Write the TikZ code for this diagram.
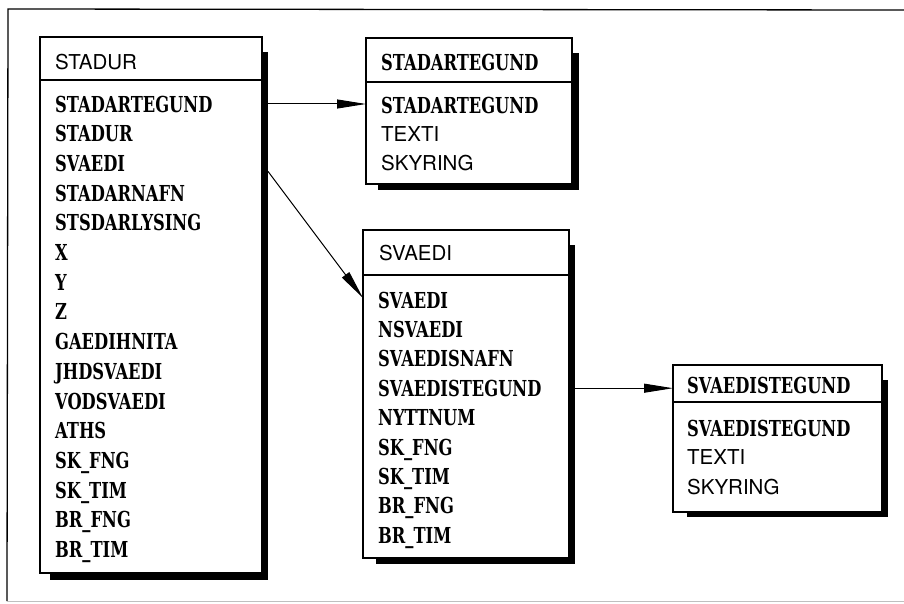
\documentclass[tikz,border=0pt]{standalone}
\usepackage{fontspec}
\usetikzlibrary{arrows.meta}
\newfontfamily\fieldfont{DejaVu Serif}[FakeStretch=0.74]
\newfontfamily\headfont{TeX Gyre Heros}
\tikzset{
  tbox/.style={draw, line width=1.1pt, fill=white, inner sep=0pt, outer sep=0pt},
  tshadow/.style={fill=black, draw=none, inner sep=0pt, outer sep=0pt},
  serifitem/.style={anchor=base west, inner sep=0pt, font=\fieldfont\bfseries\fontsize{22}{22}\selectfont},
  sansitem/.style={anchor=base west, inner sep=0pt, font=\headfont\fontsize{20.5}{20.5}\selectfont},
  rule/.style={line width=1.1pt},
  link/.style={line width=1pt, -{Triangle[length=29pt,width=9pt]}},
}
\begin{document}
\begin{tikzpicture}[x=1pt, y=-1pt]
\useasboundingbox (0,0) rectangle (904,603);

% outer frame
\draw[line width=1.3pt] (904,10) -- (8,9) -- (7,601);
\draw[gray!50, line width=0.8pt] (7,601) -- (904,601);

% ---- STADUR ----
\node[tshadow, minimum width=218pt, minimum height=528pt] (stadurshadow) at (159,316) {};
\node[tbox, minimum width=222pt, minimum height=536pt] (stadur) at (151,305) {};
\draw[rule] (stadur.west |- 0,80) -- (stadur.east |- 0,80);
\node[sansitem] (stadurhead) at (55,69) {STADUR};
\foreach \t [count=\i] in {STADARTEGUND,STADUR,SVAEDI,STADARNAFN,STSDARLYSING,X,Y,Z,GAEDIHNITA,JHDSVAEDI,VODSVAEDI,ATHS,SK\_FNG,SK\_TIM,BR\_FNG,BR\_TIM}
  \node[serifitem] (s\i) at (55,{112+(\i-1)*29.7}) {\t};

% ---- STADARTEGUND ----
\node[tshadow, minimum width=201pt, minimum height=137pt] (stadartegundshadow) at (478.5,121.5) {};
\node[tbox, minimum width=206pt, minimum height=146pt] (stadartegund) at (469,111) {};
\draw[rule] (stadartegund.west |- 0,82) -- (stadartegund.east |- 0,82);
\node[serifitem] (thead) at (381,70) {STADARTEGUND};
\node[serifitem] (t1) at (381,113) {STADARTEGUND};
\node[sansitem] (t2) at (381,141.5) {TEXTI};
\node[sansitem] (t3) at (381,170.5) {SKYRING};

% ---- SVAEDI ----
\node[tshadow, minimum width=199pt, minimum height=319pt] (svaedishadow) at (475.5,404.5) {};
\node[tbox, minimum width=206pt, minimum height=328pt] (svaedi) at (466,394) {};
\draw[rule] (svaedi.west |- 0,275) -- (svaedi.east |- 0,275);
\node[sansitem] (vhead) at (379,260) {SVAEDI};
\foreach \t [count=\i] in {SVAEDI,NSVAEDI,SVAEDISNAFN,SVAEDISTEGUND,NYTTNUM,SK\_FNG,SK\_TIM,BR\_FNG,BR\_TIM}
  \node[serifitem] (v\i) at (378,{308+(\i-1)*29.4}) {\t};

% ---- SVAEDISTEGUND ----
\node[tshadow, minimum width=201pt, minimum height=137pt] (svaedistegundshadow) at (787.5,448.5) {};
\node[tbox, minimum width=209pt, minimum height=147pt] (svaedistegund) at (777.5,438.5) {};
\draw[rule] (svaedistegund.west |- 0,402) -- (svaedistegund.east |- 0,402);
\node[serifitem] (whead) at (687,393) {SVAEDISTEGUND};
\node[serifitem] (w1) at (687,436) {SVAEDISTEGUND};
\node[sansitem] (w2) at (687,464.5) {TEXTI};
\node[sansitem] (w3) at (687,494.5) {SKYRING};

% ---- links ----
\draw[link] (stadurshadow.east |- s1) -- (stadartegund.west |- s1);
\draw[link] ([yshift=-8pt]stadurshadow.east |- s3) -- ([yshift=2pt]svaedi.west |- v1);
\draw[link] (svaedishadow.east |- v4) -- (svaedistegund.west |- v4);
\end{tikzpicture}
\end{document}
